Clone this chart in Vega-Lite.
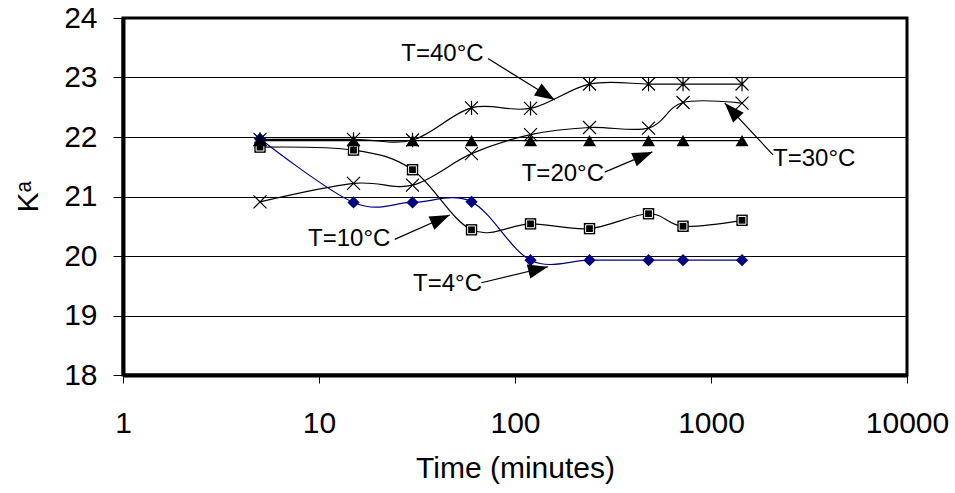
{
  "$schema": "https://vega.github.io/schema/vega-lite/v6.json",
  "width": 784,
  "height": 357,
  "autosize": {"type": "none"},
  "padding": {"left": 123, "top": 18, "right": 48, "bottom": 118},
  "background": "white",
  "config": {
    "font": "Liberation Sans",
    "view": {"stroke": "black", "strokeWidth": 3},
    "axis": {
      "labelColor": "black",
      "titleColor": "black",
      "tickColor": "black",
      "domainColor": "black",
      "titleFontWeight": "normal",
      "labelFontSize": 30,
      "titleFontSize": 30
    }
  },
  "datasets": {
    "ka": [
      {"series": "T=4", "time": 5, "ka": 21.97},
      {"series": "T=4", "time": 15, "ka": 20.9},
      {"series": "T=4", "time": 30, "ka": 20.9},
      {"series": "T=4", "time": 60, "ka": 20.91},
      {"series": "T=4", "time": 120, "ka": 19.93},
      {"series": "T=4", "time": 240, "ka": 19.93},
      {"series": "T=4", "time": 480, "ka": 19.93},
      {"series": "T=4", "time": 720, "ka": 19.93},
      {"series": "T=4", "time": 1440, "ka": 19.93},
      {"series": "T=10", "time": 5, "ka": 21.83},
      {"series": "T=10", "time": 15, "ka": 21.78},
      {"series": "T=10", "time": 30, "ka": 21.45},
      {"series": "T=10", "time": 60, "ka": 20.44},
      {"series": "T=10", "time": 120, "ka": 20.54},
      {"series": "T=10", "time": 240, "ka": 20.46},
      {"series": "T=10", "time": 480, "ka": 20.71},
      {"series": "T=10", "time": 720, "ka": 20.5},
      {"series": "T=10", "time": 1440, "ka": 20.6},
      {"series": "T=20", "time": 5, "ka": 21.94},
      {"series": "T=20", "time": 15, "ka": 21.94},
      {"series": "T=20", "time": 30, "ka": 21.94},
      {"series": "T=20", "time": 60, "ka": 21.94},
      {"series": "T=20", "time": 120, "ka": 21.94},
      {"series": "T=20", "time": 240, "ka": 21.94},
      {"series": "T=20", "time": 480, "ka": 21.94},
      {"series": "T=20", "time": 720, "ka": 21.94},
      {"series": "T=20", "time": 1440, "ka": 21.94},
      {"series": "T=30", "time": 5, "ka": 20.91},
      {"series": "T=30", "time": 15, "ka": 21.22},
      {"series": "T=30", "time": 30, "ka": 21.19},
      {"series": "T=30", "time": 60, "ka": 21.72},
      {"series": "T=30", "time": 120, "ka": 22.04},
      {"series": "T=30", "time": 240, "ka": 22.16},
      {"series": "T=30", "time": 480, "ka": 22.15},
      {"series": "T=30", "time": 720, "ka": 22.58},
      {"series": "T=30", "time": 1440, "ka": 22.57},
      {"series": "T=40", "time": 5, "ka": 21.96},
      {"series": "T=40", "time": 15, "ka": 21.96},
      {"series": "T=40", "time": 30, "ka": 21.95},
      {"series": "T=40", "time": 60, "ka": 22.49},
      {"series": "T=40", "time": 120, "ka": 22.48},
      {"series": "T=40", "time": 240, "ka": 22.89},
      {"series": "T=40", "time": 480, "ka": 22.89},
      {"series": "T=40", "time": 720, "ka": 22.89},
      {"series": "T=40", "time": 1440, "ka": 22.89}
    ],
    "notes": [
      {"label": "T=40°C", "lx": 26.3, "ly": 23.39, "x0": 72.8, "y0": 23.32, "x1": 159.5, "y1": 22.62},
      {"label": "T=30°C", "lx": 2072, "ly": 21.63, "x0": 2072, "y0": 21.7, "x1": 1175, "y1": 22.57},
      {"label": "T=20°C", "lx": 108.2, "ly": 21.38, "x0": 286.9, "y0": 21.41, "x1": 502.3, "y1": 21.75},
      {"label": "T=10°C", "lx": 8.79, "ly": 20.29, "x0": 24.33, "y0": 20.28, "x1": 46.44, "y1": 20.69},
      {"label": "T=4°C", "lx": 30.2, "ly": 19.53, "x0": 67.4, "y0": 19.55, "x1": 147.3, "y1": 19.82}
    ]
  },
  "layer": [
    {
      "data": {"name": "ka"},
      "mark": {"type": "line", "interpolate": "cardinal", "tension": 0, "strokeWidth": 1.2},
      "encoding": {
        "x": {
          "field": "time",
          "type": "quantitative",
          "scale": {"type": "log", "domain": [1, 10000]},
          "axis": {
            "title": "Time (minutes)",
            "values": [1, 10, 100, 1000, 10000],
            "format": "d",
            "grid": false,
            "tickSize": 8,
            "tickWidth": 1,
            "domainWidth": 4,
            "labelPadding": 25,
            "labelFlush": false,
            "labelOverlap": false,
            "titlePadding": 15
          }
        },
        "y": {
          "field": "ka",
          "type": "quantitative",
          "scale": {"domain": [18, 24], "nice": false, "zero": false},
          "axis": {
            "title": "Kᵃ",
            "values": [18, 19, 20, 21, 22, 23, 24],
            "format": "d",
            "grid": true,
            "gridColor": "black",
            "gridOpacity": 1,
            "gridWidth": 1,
            "tickSize": 10,
            "tickWidth": 1,
            "domainWidth": 4,
            "labelPadding": 16,
            "titlePadding": 20
          }
        },
        "color": {
          "field": "series",
          "type": "nominal",
          "scale": {"domain": ["T=4", "T=10", "T=20", "T=30", "T=40"], "range": ["#000080", "black", "black", "black", "black"]},
          "legend": null
        },
        "detail": {"field": "series"}
      }
    },
    {
      "data": {"name": "ka"},
      "transform": [{"filter": "datum.series == 'T=4'"}],
      "mark": {"type": "point", "shape": "diamond", "filled": true, "color": "#000080", "size": 150, "opacity": 1},
      "encoding": {
        "x": {"field": "time", "type": "quantitative"},
        "y": {"field": "ka", "type": "quantitative"}
      }
    },
    {
      "data": {"name": "ka"},
      "transform": [{"filter": "datum.series == 'T=10'"}],
      "mark": {"type": "point", "shape": "square", "filled": true, "color": "black", "size": 130, "opacity": 1},
      "encoding": {
        "x": {"field": "time", "type": "quantitative"},
        "y": {"field": "ka", "type": "quantitative"}
      }
    },
    {
      "data": {"name": "ka"},
      "transform": [{"filter": "datum.series == 'T=10'"}],
      "mark": {"type": "point", "shape": "square", "filled": true, "fill": "black", "stroke": "white", "strokeWidth": 1, "size": 60, "opacity": 1},
      "encoding": {
        "x": {"field": "time", "type": "quantitative"},
        "y": {"field": "ka", "type": "quantitative"}
      }
    },
    {
      "data": {"name": "ka"},
      "transform": [{"filter": "datum.series == 'T=20'"}],
      "mark": {"type": "point", "shape": "triangle-up", "filled": true, "color": "black", "size": 169, "opacity": 1},
      "encoding": {
        "x": {"field": "time", "type": "quantitative"},
        "y": {"field": "ka", "type": "quantitative"}
      }
    },
    {
      "data": {"name": "ka"},
      "transform": [{"filter": "datum.series == 'T=30'"}],
      "mark": {"type": "point", "shape": "M-1,-1L1,1M-1,1L1,-1", "filled": false, "stroke": "black", "strokeWidth": 1.2, "size": 169, "opacity": 1},
      "encoding": {
        "x": {"field": "time", "type": "quantitative"},
        "y": {"field": "ka", "type": "quantitative"}
      }
    },
    {
      "data": {"name": "ka"},
      "transform": [{"filter": "datum.series == 'T=40'"}],
      "mark": {"type": "point", "shape": "M-1,-1L1,1M-1,1L1,-1M0,-1.1L0,1.1", "filled": false, "stroke": "black", "strokeWidth": 1.2, "size": 169, "opacity": 1},
      "encoding": {
        "x": {"field": "time", "type": "quantitative"},
        "y": {"field": "ka", "type": "quantitative"}
      }
    },
    {
      "data": {"name": "notes"},
      "mark": {"type": "rule", "color": "black", "strokeWidth": 1.2},
      "encoding": {
        "x": {"field": "x0", "type": "quantitative"},
        "y": {"field": "y0", "type": "quantitative"},
        "x2": {"field": "x1"},
        "y2": {"field": "y1"}
      }
    },
    {
      "data": {"name": "notes"},
      "mark": {"type": "text", "align": "left", "baseline": "middle", "fontSize": 24, "color": "black"},
      "encoding": {
        "x": {"field": "lx", "type": "quantitative"},
        "y": {"field": "ly", "type": "quantitative"},
        "text": {"field": "label"}
      }
    },
    {
      "data": {"name": "notes"},
      "transform": [{"filter": "datum.label == 'T=40°C'"}],
      "mark": {"type": "point", "shape": "M0,0L-0.36,1L0.36,1Z", "filled": true, "color": "black", "size": 1600, "opacity": 1, "angle": 122},
      "encoding": {
        "x": {"field": "x1", "type": "quantitative"},
        "y": {"field": "y1", "type": "quantitative"}
      }
    },
    {
      "data": {"name": "notes"},
      "transform": [{"filter": "datum.label == 'T=30°C'"}],
      "mark": {"type": "point", "shape": "M0,0L-0.36,1L0.36,1Z", "filled": true, "color": "black", "size": 1600, "opacity": 1, "angle": 317},
      "encoding": {
        "x": {"field": "x1", "type": "quantitative"},
        "y": {"field": "y1", "type": "quantitative"}
      }
    },
    {
      "data": {"name": "notes"},
      "transform": [{"filter": "datum.label == 'T=20°C'"}],
      "mark": {"type": "point", "shape": "M0,0L-0.36,1L0.36,1Z", "filled": true, "color": "black", "size": 1600, "opacity": 1, "angle": 67},
      "encoding": {
        "x": {"field": "x1", "type": "quantitative"},
        "y": {"field": "y1", "type": "quantitative"}
      }
    },
    {
      "data": {"name": "notes"},
      "transform": [{"filter": "datum.label == 'T=10°C'"}],
      "mark": {"type": "point", "shape": "M0,0L-0.36,1L0.36,1Z", "filled": true, "color": "black", "size": 1600, "opacity": 1, "angle": 66},
      "encoding": {
        "x": {"field": "x1", "type": "quantitative"},
        "y": {"field": "y1", "type": "quantitative"}
      }
    },
    {
      "data": {"name": "notes"},
      "transform": [{"filter": "datum.label == 'T=4°C'"}],
      "mark": {"type": "point", "shape": "M0,0L-0.36,1L0.36,1Z", "filled": true, "color": "black", "size": 1600, "opacity": 1, "angle": 76},
      "encoding": {
        "x": {"field": "x1", "type": "quantitative"},
        "y": {"field": "y1", "type": "quantitative"}
      }
    }
  ]
}
